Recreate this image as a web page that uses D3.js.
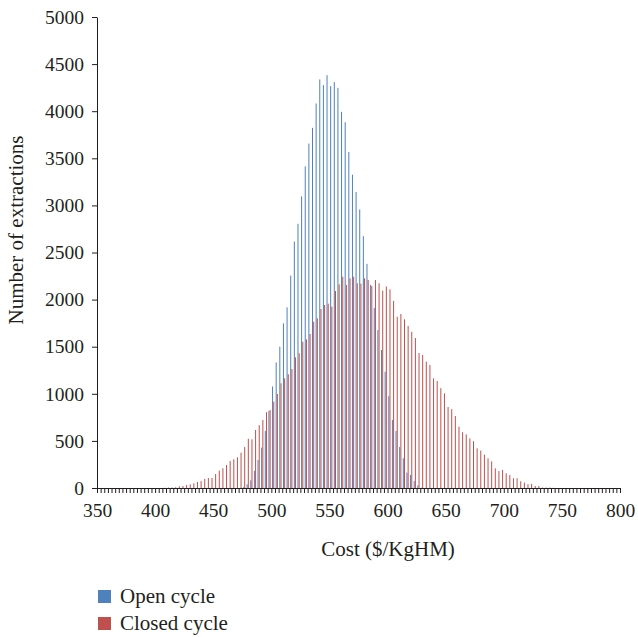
<!DOCTYPE html>
<html>
<head>
<meta charset="utf-8">
<script src="https://cdn.jsdelivr.net/npm/d3@7"></script>
<style>
  body { margin: 0; background: #fff; }
  text { font-family: "Liberation Serif", "DejaVu Serif", serif; fill: #231f20; }
</style>
</head>
<body>
<div id="chart"></div>
<script>
// histogram bins: 144 bins of 3.125 $/KgHM from 350 to 800
const binStarts = d3.range(350, 800, 3.125);
const binWidth = 3.125;

// counts per bin, open cycle starts at bin 40, closed cycle at bin 18
const openFirstBin = 40;
const openCycle = [
  8, 39, 82, 181, 298, 429, 606, 819, 1078, 1333,
  1500, 1748, 1918, 2255, 2617, 2805, 3096, 3415, 3656, 3823,
  4082, 4337, 4277, 4383, 4266, 4309, 4248, 3993, 3883, 3567,
  3326, 3142, 2957, 2673, 2380, 2156, 1911, 1677, 1465, 1234,
  975, 723, 606, 436, 316, 163, 138, 74, 28, 3
];
const closedFirstBin = 18;
const closedCycle = [
  2, 5, 5, 8, 18, 21, 32, 39, 50, 64,
  74, 96, 106, 106, 149, 184, 209, 244, 287, 305,
  326, 375, 435, 523, 517, 616, 667, 722, 805, 828,
  916, 998, 1111, 1164, 1207, 1263, 1387, 1430, 1553, 1578,
  1635, 1765, 1801, 1900, 1943, 1957, 1925, 2091, 2162, 2243,
  2155, 2226, 2243, 2173, 2170, 2226, 2208, 2144, 2208, 2173,
  2095, 2140, 2109, 1986, 1818, 1847, 1791, 1720, 1659, 1592,
  1433, 1412, 1341, 1306, 1164, 1136, 1060, 1005, 860, 837,
  764, 651, 592, 570, 527, 497, 421, 398, 354, 315,
  283, 209, 180, 191, 156, 138, 103, 103, 72, 58,
  40, 44, 21, 21, 5, 5, 5, 2
];
const yTicks = d3.range(0, 5001, 500);
const xLabels = [350, 400, 450, 500, 550, 600, 650, 700, 750, 800];

const width = 638, height = 637;
const blue = "#4f81bd", red = "#c0504d";

const svg = d3.select("#chart").append("svg")
  .attr("width", width)
  .attr("height", height);

const x = d3.scaleLinear().domain([350, 800]).range([97, 620]);
const y = d3.scaleLinear().domain([0, 5000]).range([488, 17]);

const toPoints = (arr, first) => arr.map((v, i) => ({ start: binStarts[first + i], v }));

// bars
svg.append("g").selectAll("rect")
  .data(toPoints(openCycle, openFirstBin))
  .join("rect")
  .attr("x", d => x(d.start + binWidth / 2) - 1.1)
  .attr("y", d => y(d.v))
  .attr("width", 1)
  .attr("height", d => y(0) - y(d.v))
  .attr("fill", blue);

svg.append("g").selectAll("rect")
  .data(toPoints(closedCycle, closedFirstBin))
  .join("rect")
  .attr("x", d => x(d.start + binWidth / 2) + 0.1)
  .attr("y", d => y(d.v))
  .attr("width", 1)
  .attr("height", d => y(0) - y(d.v))
  .attr("fill", red);

// y axis
const yAxis = svg.append("g")
  .attr("transform", `translate(${x(350)},0)`)
  .call(d3.axisLeft(y).tickValues(yTicks).tickSize(5).tickPadding(8)
    .tickSizeOuter(0).tickFormat(d3.format("d")));
yAxis.selectAll("text").attr("font-size", 19.5).attr("fill", "#231f20");

// x axis with a tick at every bin edge
const xAxis = svg.append("g")
  .attr("transform", `translate(0,${y(0)})`)
  .call(d3.axisBottom(x)
    .tickValues(binStarts.concat([800]))
    .tickSize(5)
    .tickPadding(10)
    .tickSizeOuter(0)
    .tickFormat(d => xLabels.includes(d) ? d : ""));
xAxis.selectAll("text").attr("font-size", 19.5).attr("fill", "#231f20");
svg.selectAll(".domain, .tick line").attr("stroke", "#231f20");

// axis titles
svg.append("text")
  .attr("transform", `translate(23,230) rotate(-90)`)
  .attr("text-anchor", "middle")
  .attr("font-size", 21)
  .text("Number of extractions");

svg.append("text")
  .attr("x", 388)
  .attr("y", 556)
  .attr("text-anchor", "middle")
  .attr("font-size", 21)
  .text("Cost ($/KgHM)");

// legend
const legend = svg.append("g").attr("transform", "translate(98,590)");
[["Open cycle", blue], ["Closed cycle", red]].forEach(([name, c], i) => {
  legend.append("rect")
    .attr("x", 0).attr("y", i * 27)
    .attr("width", 13).attr("height", 13)
    .attr("fill", c);
  legend.append("text")
    .attr("x", 22).attr("y", i * 27 + 13)
    .attr("font-size", 21)
    .text(name);
});
</script>
</body>
</html>
